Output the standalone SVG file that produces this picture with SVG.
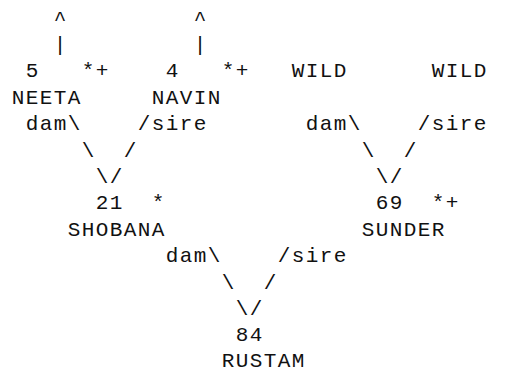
<svg xmlns="http://www.w3.org/2000/svg" width="516" height="373" viewBox="0 0 516 373">
<style>
text { font-family: "Liberation Mono", "Courier New", monospace; font-size: 21px; letter-spacing: 1.4px; fill: #111; white-space: pre; }
</style>
<rect width="516" height="373" fill="#fff"/>
<g transform="translate(0.7,0)">
<g id="connectors">
  <text x="53" y="24.5">^</text><text x="193" y="24.5">^</text>
  <text x="53" y="50.9">|</text><text x="193" y="50.9">|</text>
  <text x="25" y="130.1">dam\</text><text x="137" y="130.1">/sire</text>
  <text x="305" y="130.1">dam\</text><text x="417" y="130.1">/sire</text>
  <text x="81" y="156.5">\</text><text x="123" y="156.5">/</text>
  <text x="361" y="156.5">\</text><text x="403" y="156.5">/</text>
  <text x="95" y="182.9">\/</text>
  <text x="375" y="182.9">\/</text>
  <text x="165" y="262.1">dam\</text><text x="277" y="262.1">/sire</text>
  <text x="221" y="288.5">\</text><text x="263" y="288.5">/</text>
  <text x="235" y="314.9">\/</text>
</g>
<g id="node-neeta">
  <text x="25" y="77.3">5</text><text x="81" y="77.3">*+</text>
  <text x="11" y="103.7">NEETA</text>
</g>
<g id="node-navin">
  <text x="165" y="77.3">4</text><text x="221" y="77.3">*+</text>
  <text x="151" y="103.7">NAVIN</text>
</g>
<g id="node-wild-1">
  <text x="291" y="77.3">WILD</text>
</g>
<g id="node-wild-2">
  <text x="431" y="77.3">WILD</text>
</g>
<g id="node-shobana">
  <text x="95" y="209.3">21</text><text x="151" y="209.3">*</text>
  <text x="67" y="235.7">SHOBANA</text>
</g>
<g id="node-sunder">
  <text x="375" y="209.3">69</text><text x="431" y="209.3">*+</text>
  <text x="361" y="235.7">SUNDER</text>
</g>
<g id="node-rustam">
  <text x="235" y="341.3">84</text>
  <text x="221" y="366.5">RUSTAM</text>
</g>
</g>
</svg>
